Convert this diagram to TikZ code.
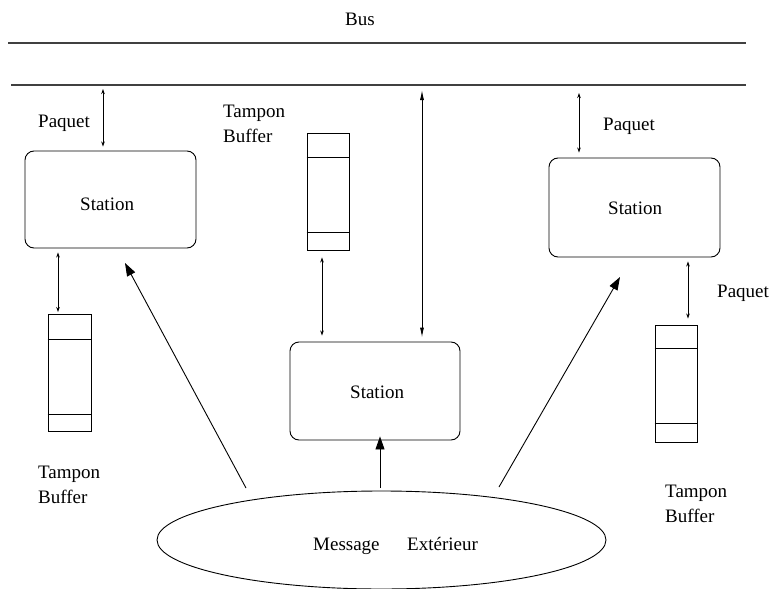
\documentclass[tikz,border=0pt]{standalone}
\usepackage{fontspec}
\setmainfont{Liberation Serif}
\usetikzlibrary{arrows.meta,shapes.geometric}
\begin{document}
\begin{tikzpicture}[x=1pt,y=-1pt,
  every node/.style={font=\fontsize{19}{23}\selectfont, inner sep=0pt},
  lbl/.style={anchor=base west},
  stationbox/.style={draw, line width=0.9pt, rounded corners=9pt},
  bufbox/.style={draw, line width=0.9pt, minimum width=43pt, minimum height=117pt},
  ln/.style={line width=0.9pt},
  small/.style={ln, {Stealth[length=5pt,width=3.5pt]}-{Stealth[length=5pt,width=3.5pt]}},
  longarr/.style={ln, {Latex[length=10pt,width=4pt]}-{Latex[length=10pt,width=4pt]}},
  big/.style={ln, -{Triangle[length=13pt,width=9pt]}}]
\useasboundingbox (0,0) rectangle (772,589);

% bus
\node[lbl] (bus) at (345,25) {Bus};
\coordinate (b1a) at (8,43);
\coordinate (b1b) at (746,43);
\coordinate (b2a) at (11,85);
\coordinate (b2b) at (746,85);
\draw[line width=1.1pt, black!75] (b1a) -- (b1b);
\draw[line width=1.1pt, black!75] (b2a) -- (b2b);

% stations
\node[stationbox, minimum width=171pt, minimum height=97pt] (s1) at (110.5,199.5) {};
\node[lbl] (t1) at (80,210) {Station};
\node[stationbox, minimum width=170pt, minimum height=98pt] (s2) at (375,391) {};
\node[lbl] (t2) at (350,398) {Station};
\node[stationbox, minimum width=171pt, minimum height=99pt] (s3) at (634.5,207.5) {};
\node[lbl] (t3) at (608,214) {Station};

% buffers
\node[bufbox] (f1) at (69.5,373) {};
\draw[ln] ([yshift=-25pt]f1.north west) -- ([yshift=-25pt]f1.north east);
\draw[ln] ([yshift=18pt]f1.south west) -- ([yshift=18pt]f1.south east);
\node[bufbox, minimum width=42pt] (f2) at (328,191.5) {};
\draw[ln] ([yshift=-25pt]f2.north west) -- ([yshift=-25pt]f2.north east);
\draw[ln] ([yshift=18pt]f2.south west) -- ([yshift=18pt]f2.south east);
\node[bufbox, minimum width=42pt] (f3) at (676,383.5) {};
\draw[ln] ([yshift=-24pt]f3.north west) -- ([yshift=-24pt]f3.north east);
\draw[ln] ([yshift=19pt]f3.south west) -- ([yshift=19pt]f3.south east);

% ellipse
\node[draw, ln, ellipse, minimum width=449pt, minimum height=98pt] (ext) at (381.5,540) {};
\node[lbl] (m1) at (313,550) {Message};
\node[lbl] (m2) at (407,550) {Extérieur};

% labels
\node[lbl] (pq1) at (38,127) {Paquet};
\node[lbl] (pq2) at (603,130) {Paquet};
\node[lbl] (pq3) at (717,297) {Paquet};
\node[lbl] (tb1a) at (38,478) {Tampon};
\node[lbl] (tb1b) at (38,503) {Buffer};
\node[lbl] (tb2a) at (223,117) {Tampon};
\node[lbl] (tb2b) at (223,142) {Buffer};
\node[lbl] (tb3a) at (665,497) {Tampon};
\node[lbl] (tb3b) at (665,522) {Buffer};

% small double arrows
\coordinate (a1) at (103,89);
\draw[small] (a1) -- ([yshift=4pt]s1.north -| a1);
\coordinate (a2) at (58,0);
\draw[small] ([yshift=-4pt]s1.south -| a2) -- ([yshift=2pt]f1.north -| a2);
\coordinate (a3) at (322,0);
\draw[small] ([yshift=-7pt]f2.south -| a3) -- ([yshift=6pt]s2.north -| a3);
\coordinate (a4) at (579,93);
\draw[small] (a4) -- ([yshift=5pt]s3.north -| a4);
\coordinate (a5) at (688,0);
\draw[small] ([yshift=-4pt]s3.south -| a5) -- ([yshift=6pt]f3.north -| a5);

% long arrow
\coordinate (a6) at (422,90);
\draw[longarr] (a6) -- ([yshift=4pt]s2.north -| a6);

% big arrows from ellipse
\coordinate (e1) at (246,488);
\coordinate (e1t) at (125,263);
\draw[big] (e1) -- (e1t);
\coordinate (e2) at (380,488);
\draw[big] (e2) -- ([yshift=4pt]s2.south -| e2);
\coordinate (e3) at (499,487);
\coordinate (e3t) at (620,277);
\draw[big] (e3) -- (e3t);
\end{tikzpicture}
\end{document}
